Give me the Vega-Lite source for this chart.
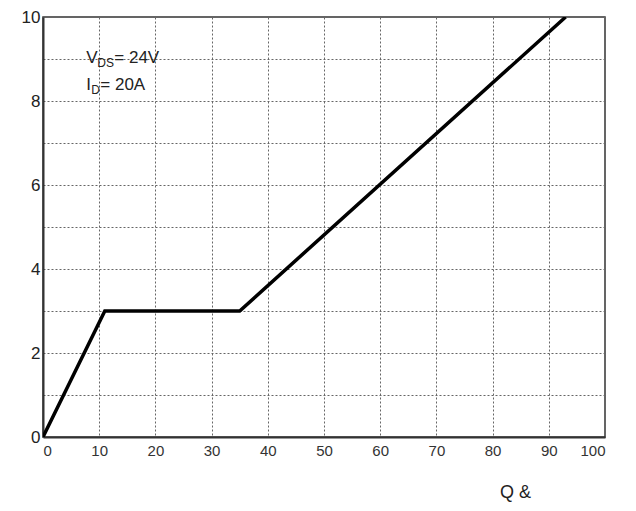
{
  "$schema": "https://vega.github.io/schema/vega-lite/v6.json",
  "width": 562,
  "height": 420,
  "autosize": "none",
  "padding": {"left": 43, "top": 17, "right": 31, "bottom": 74},
  "background": "white",
  "config": {
    "font": "Liberation Sans",
    "view": {"stroke": "#333", "strokeWidth": 1.5}
  },
  "datasets": {
    "curve": [
      {"q": 0, "vgs": 0},
      {"q": 11, "vgs": 3},
      {"q": 35, "vgs": 3},
      {"q": 93, "vgs": 10}
    ],
    "vds": [{"q": 7.7, "vgs": 8.9, "main": "V", "sub": "DS", "rest": "= 24V"}],
    "id": [{"q": 7.7, "vgs": 8.26, "main": "I", "sub": "D", "rest": "= 20A"}]
  },
  "layer": [
    {
      "data": {"name": "curve"},
      "mark": {"type": "line", "color": "black", "strokeWidth": 3.5, "clip": true},
      "encoding": {
        "x": {
          "field": "q", "type": "quantitative",
          "scale": {"domain": [0, 100], "nice": false, "zero": false},
          "axis": {
            "values": [0,5,10,15,20,25,30,35,40,45,50,55,60,65,70,75,80,85,90,95,100],
            "labelExpr": "datum.value % 10 == 0 ? datum.label : ''",
            "grid": true, "gridDash": [2, 2], "gridColor": "#666", "gridWidth": 1,
            "ticks": false, "domainColor": "#333", "domainWidth": 2,
            "labelFontSize": 15, "labelColor": "#333", "labelPadding": 6,
            "title": "Q &", "titleFontSize": 18, "titleFontWeight": "normal", "titleColor": "#222",
            "titleX": 472, "titleY": 60, "titleAnchor": "start", "titleAlign": "center", "titleBaseline": "alphabetic"
          }
        },
        "y": {
          "field": "vgs", "type": "quantitative",
          "scale": {"domain": [0, 10], "nice": false},
          "axis": {
            "values": [0,1,2,3,4,5,6,7,8,9,10],
            "labelExpr": "datum.value % 2 == 0 ? datum.label : ''",
            "grid": true, "gridDash": [2, 2], "gridColor": "#666", "gridWidth": 1,
            "ticks": false, "domainColor": "#333", "domainWidth": 2,
            "labelFontSize": 17, "labelColor": "#222", "labelPadding": 3,
            "title": null
          }
        }
      }
    },
    {
      "data": {"name": "vds"},
      "layer": [
        {"mark": {"type": "text", "align": "left", "baseline": "alphabetic", "fontSize": 17, "color": "#222"},
         "encoding": {"x": {"field": "q", "type": "quantitative"}, "y": {"field": "vgs", "type": "quantitative"}, "text": {"field": "main"}}},
        {"mark": {"type": "text", "align": "left", "baseline": "alphabetic", "fontSize": 12, "color": "#222", "dx": 11, "dy": 4},
         "encoding": {"x": {"field": "q", "type": "quantitative"}, "y": {"field": "vgs", "type": "quantitative"}, "text": {"field": "sub"}}},
        {"mark": {"type": "text", "align": "left", "baseline": "alphabetic", "fontSize": 17, "color": "#222", "dx": 28},
         "encoding": {"x": {"field": "q", "type": "quantitative"}, "y": {"field": "vgs", "type": "quantitative"}, "text": {"field": "rest"}}}
      ]
    },
    {
      "data": {"name": "id"},
      "layer": [
        {"mark": {"type": "text", "align": "left", "baseline": "alphabetic", "fontSize": 17, "color": "#222"},
         "encoding": {"x": {"field": "q", "type": "quantitative"}, "y": {"field": "vgs", "type": "quantitative"}, "text": {"field": "main"}}},
        {"mark": {"type": "text", "align": "left", "baseline": "alphabetic", "fontSize": 12, "color": "#222", "dx": 5, "dy": 4},
         "encoding": {"x": {"field": "q", "type": "quantitative"}, "y": {"field": "vgs", "type": "quantitative"}, "text": {"field": "sub"}}},
        {"mark": {"type": "text", "align": "left", "baseline": "alphabetic", "fontSize": 17, "color": "#222", "dx": 14},
         "encoding": {"x": {"field": "q", "type": "quantitative"}, "y": {"field": "vgs", "type": "quantitative"}, "text": {"field": "rest"}}}
      ]
    }
  ]
}
